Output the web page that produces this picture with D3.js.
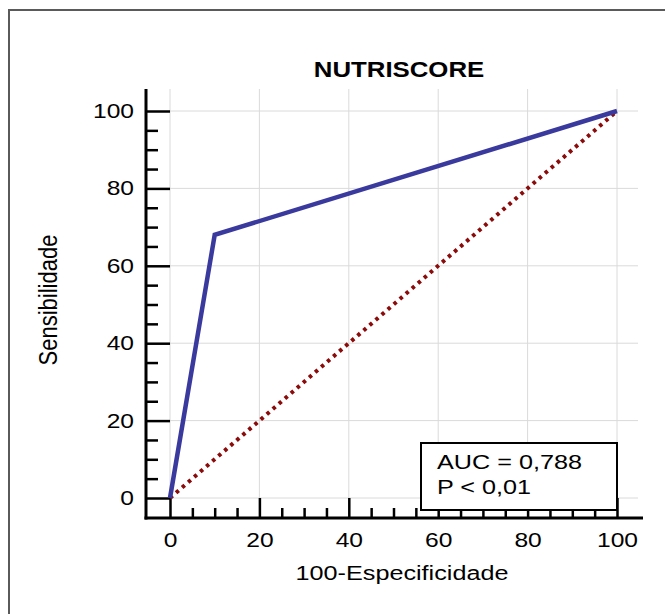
<!DOCTYPE html>
<html>
<head>
<meta charset="utf-8">
<script src="https://cdn.jsdelivr.net/npm/d3@7"></script>
<style>
  body { margin: 0; background: #fff; }
  text { font-family: "Liberation Sans", Arial, sans-serif; fill: #000; }
</style>
</head>
<body>
<script>
// data van de ROC curve
var title = "NUTRISCORE";
var rocX = [0, 10, 100];
var rocY = [0, 68, 100];
var refX = [0, 100];
var refY = [0, 100];
var majorTicks = [0, 20, 40, 60, 80, 100];
var minorTicks = [5, 10, 15, 25, 30, 35, 45, 50, 55, 65, 70, 75, 85, 90, 95];
var statLines = ["AUC = 0,788", "P < 0,01"];

var W = 665, H = 614;
var stretch = 1.2; // het origineel is horizontaal uitgerekt

var svg = d3.select("body").append("svg")
    .attr("width", W)
    .attr("height", H);

// schalen
var x = d3.scaleLinear().domain([0, 100]).range([170, 617]);
var y = d3.scaleLinear().domain([0, 100]).range([498, 111]);

// kader
svg.append("path")
    .attr("d", "M9," + H + "V10H" + W)
    .attr("fill", "none")
    .attr("stroke", "#5a5a5a")
    .attr("stroke-width", 2);

// rasterlijnen
var grid = svg.append("g").attr("stroke", "#dadada").attr("stroke-width", 1);
grid.selectAll(".v").data(majorTicks).enter().append("line")
    .attr("x1", d => x(d)).attr("x2", d => x(d))
    .attr("y1", 89).attr("y2", 517);
grid.selectAll(".h").data(majorTicks).enter().append("line")
    .attr("x1", x(0)).attr("x2", 638)
    .attr("y1", d => y(d)).attr("y2", d => y(d));

// y-as (ticks naar binnen)
var yAxis = svg.append("g")
    .attr("transform", "translate(146,0)")
    .call(d3.axisLeft(y).tickValues(majorTicks).tickSize(-24).tickSizeOuter(0).tickPadding(10));
svg.append("g")
    .attr("transform", "translate(146,0)")
    .call(d3.axisLeft(y).tickValues(minorTicks).tickSize(-12).tickSizeOuter(0).tickFormat(""));

// x-as (ticks naar boven)
var xAxis = svg.append("g")
    .attr("transform", "translate(0,518)")
    .call(d3.axisBottom(x).tickValues(majorTicks).tickSize(-20).tickSizeOuter(0).tickPadding(14));
svg.append("g")
    .attr("transform", "translate(0,518)")
    .call(d3.axisBottom(x).tickValues(minorTicks).tickSize(-10).tickSizeOuter(0).tickFormat(""));

svg.selectAll(".domain").remove();
svg.selectAll(".tick line").attr("stroke", "#000").attr("stroke-width", 2.5);
svg.selectAll(".tick text")
    .attr("font-size", 20.5)
    .attr("font-family", "Liberation Sans, Arial, sans-serif")
    .attr("fill", "#000");
yAxis.selectAll(".tick text").attr("transform", "scale(" + stretch + ",1)");
xAxis.selectAll(".tick text").attr("transform", "scale(" + stretch + ",1)");

// aslijnen
svg.append("line").attr("x1", 146).attr("x2", 146).attr("y1", 89).attr("y2", 519.5)
    .attr("stroke", "#000").attr("stroke-width", 3);
svg.append("line").attr("x1", 144.5).attr("x2", 643).attr("y1", 518).attr("y2", 518)
    .attr("stroke", "#000").attr("stroke-width", 3);

// referentielijn (gestippeld)
var line = d3.line().x(d => x(d[0])).y(d => y(d[1]));
svg.append("path")
    .datum(refX.map((v, i) => [v, refY[i]]))
    .attr("d", line)
    .attr("fill", "none")
    .attr("stroke", "#8b0a0a")
    .attr("stroke-width", 4)
    .attr("stroke-dasharray", "3.5,4.5");

// ROC curve
svg.append("path")
    .datum(rocX.map((v, i) => [v, rocY[i]]))
    .attr("d", line)
    .attr("fill", "none")
    .attr("stroke", "#3a3a9e")
    .attr("stroke-width", 4.5)
    .attr("stroke-linejoin", "miter");

// titel
svg.append("text")
    .attr("transform", "translate(399,77) scale(" + stretch + ",1)")
    .attr("text-anchor", "middle")
    .attr("font-size", 21.5)
    .attr("font-weight", "bold")
    .text(title);

// aslabels
svg.append("text")
    .attr("transform", "translate(402,580) scale(" + stretch + ",1)")
    .attr("text-anchor", "middle")
    .attr("font-size", 21)
    .text("100-Especificidade");

svg.append("text")
    .attr("transform", "translate(57,300) scale(" + stretch + ",1) rotate(-90)")
    .attr("text-anchor", "middle")
    .attr("font-size", 22)
    .text("Sensibilidade");

// AUC kader
svg.append("rect")
    .attr("x", 421).attr("y", 443)
    .attr("width", x(100) - 421).attr("height", 67)
    .attr("fill", "#fff")
    .attr("stroke", "#000")
    .attr("stroke-width", 2);

svg.selectAll(".stat").data(statLines).enter().append("text")
    .attr("transform", (d, i) => "translate(437," + (469 + i * 25) + ") scale(" + stretch + ",1)")
    .attr("font-size", 21)
    .text(d => d);
</script>
</body>
</html>
